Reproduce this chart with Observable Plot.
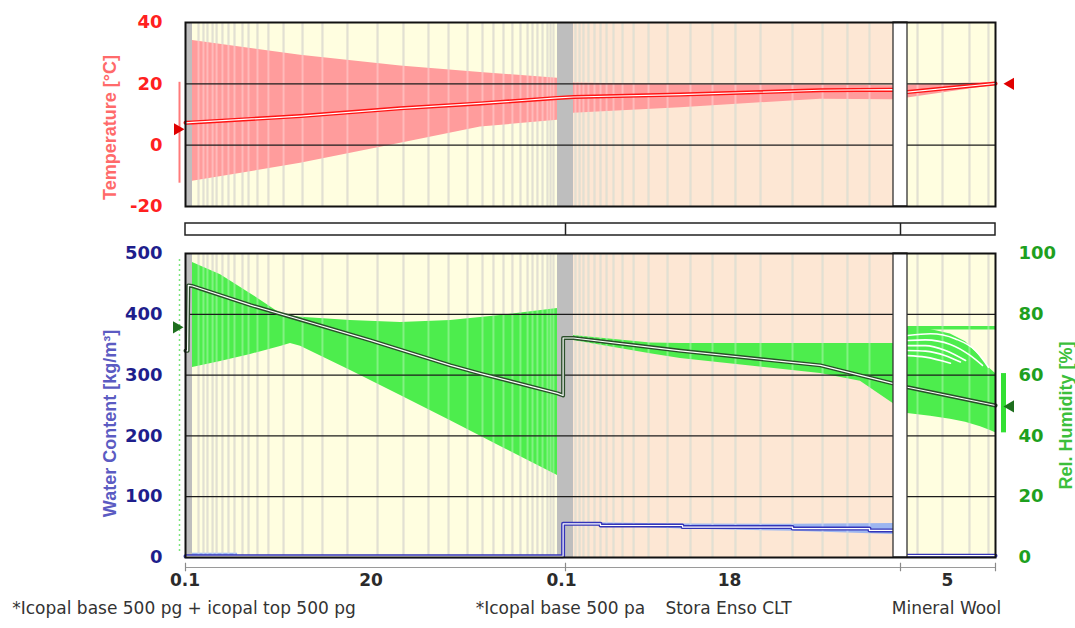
<!DOCTYPE html>
<html><head><meta charset="utf-8">
<script src="https://cdn.jsdelivr.net/npm/d3@7"></script>
<script src="https://cdn.jsdelivr.net/npm/@observablehq/plot@0.6"></script>
<style>
body{margin:0;background:#fff;}
#chart{width:1075px;height:628px;overflow:hidden;background:#fff;}
#chart svg{display:block;}
</style></head><body><div id="chart"></div>
<script>
// ---------------- DATA ----------------
const layerNames = ["*Icopal base 500 pg + icopal top 500 pg", "", "*Icopal base 500 pa", "Stora Enso CLT", "", "Mineral Wool"];
const layerThickness = [0.1, 20, 0.1, 18, 0.1, 5];          // cm
const thicknessLabels = ["0.1", "20", "0.1", "18", "", "5"];
const layerKinds = ["membrane", "insulation", "membrane", "timber", "gap", "insulation"];

// grid element boundaries (cm)
const gridX = [0.43, 0.70, 0.92, 1.20, 1.42, 1.74, 2.07, 2.40, 2.84, 3.17, 3.66, 4.26, 5.09, 6.13, 7.22, 8.59, 10.24, 11.66, 13.03, 14.13, 15.17, 15.99, 16.59, 17.14, 17.63, 18.07, 18.46, 18.73, 19.00, 19.28, 19.55, 19.72, 19.88,
  20.31, 20.54, 20.76, 21.04, 21.38, 21.72, 22.06, 22.45, 22.96, 23.58, 24.42, 25.49, 26.78, 28.02, 29.31, 30.72, 32.52, 34.21, 35.61, 36.85,
  38.87, 40.29, 41.82, 42.90];

// temperature envelope (°C)
const tempBandX     = [0.1, 6.02, 11.5, 15.88, 20.1, 20.2, 26.22, 34.09, 38.2, 38.3, 43.3];
const tempBandMax   = [34.1, 29.3, 25.8, 23.7, 21.8, 20.3, 19.7, 19.6, 19.4, 19.6, 20.5];
const tempBandMin   = [-11.8, -5.9, 0.6, 5.9, 8.1, 10.4, 12.2, 15.0, 14.8, 15.4, 19.5];
const tempBandLayer = [1, 1, 1, 1, 1, 3, 3, 3, 3, 5, 5];
// temperature mean profile
const tempMeanX = [0, 0.1, 6.02, 11.5, 15.88, 20.1, 20.2, 26.22, 34.09, 38.2, 38.3, 43.3];
const tempMean  = [7.3, 7.4, 9.5, 12.0, 13.6, 15.4, 15.7, 16.5, 17.9, 18.1, 17.3, 20.1];

// relative humidity envelope (%)
const rhBandX     = [0.1, 1.64, 3.28, 4.92, 5.47, 6.02, 8.76, 11.5, 14.24, 16.98, 20.1, 20.2, 24.53, 26.22, 30.16, 34.09, 36.34, 38.2, 38.3, 39.61, 40.74, 41.6, 42.45, 43.01, 43.3];
const rhBandMax   = [97, 93, 86.8, 80.3, 79.5, 79.0, 78.0, 77.3, 78.0, 79.6, 81.9, 73, 70.6, 70.4, 70.4, 70.4, 70.4, 70.4, 76, 75, 73.5, 71, 66, 62, 60.5];
const rhBandMin   = [62.5, 64.5, 66.8, 69.4, 70.4, 69.5, 61.5, 53.3, 45, 36.5, 27.0, 71.4, 67, 65.5, 63, 60.5, 58, 50.6, 47.4, 46.5, 45.5, 44.5, 43, 41.8, 41];
const rhBandLayer = [1,1,1,1,1,1,1,1,1,1,1, 3,3,3,3,3,3,3, 5,5,5,5,5,5,5];
// RH mean profile
const rhMeanX = [0, 0.03, 0.04, 0.1, 3.28, 6.02, 9.85, 14.24, 15.88, 20.1, 20.135, 20.135, 20.2, 26.22, 34.09, 38.2, 38.3, 43.3];
const rhMean  = [68, 68, 89.5, 89.3, 83, 78.2, 71.4, 63.2, 60.5, 54, 53.3, 72.2, 72.2, 68, 63.2, 57.2, 56, 50];
// earlier RH profiles inside the mineral wool (white traces)
const rhTraceId = [0,0,0,0,0, 1,1,1,1,1, 2,2,2,2, 3,3,3,3, 4,4,4];
const rhTraceX  = [38.3, 39.61, 41.03, 42.16, 42.9, 38.3, 39.32, 40.74, 41.88, 42.56, 38.3, 39.32, 40.46, 41.6, 38.3, 39.32, 40.46, 41.31, 38.3, 39.32, 40.74];
const rhTraceV  = [73, 73.6, 71.9, 68.1, 62.6, 71.4, 71.6, 70.1, 66.4, 63.2, 69.7, 69.7, 68.1, 64.8, 68.1, 67.9, 66.4, 64.3, 66.4, 65.9, 63.9];
const rhWoolMax = 75.6;

// water content (kg/m³)
const wcMeanX = [0, 20.135, 20.135, 21.72, 26.33, 32.52, 36.85, 38.2, 38.25, 43.3];
const wcMean  = [2, 2, 55.4, 52.6, 50, 47.5, 44.5, 44.5, 3, 3];
const wcBandX = [0, 2.57, 20.2, 26.33, 32.52, 38.2];
const wcBandMax = [7, 7, 57.5, 55, 54.5, 56];
const wcBandMin = [1, 1, 53.5, 47, 43, 38];
const wcBandLayer = [1, 1, 3, 3, 3, 3];

// boundary climates
const extTempMean = 5.2, extTempRange = [-12.4, 20.5], intTemp = 20.0;
const extRHMean = 75.7, extRHRange = [2, 98], intRHMean = 49.7, intRHRange = [41, 60.5];

// axis ticks
const tempTicks = [-20, 0, 20, 40];
const wcTicks = [0, 100, 200, 300, 400, 500];
const rhTicks = [0, 20, 40, 60, 80, 100];

// ---------------- LAYOUT / STYLE ----------------
const W = 1075;
const xRange = [185, 192, 557, 573, 893, 907, 995];
const edges = [0];
layerThickness.forEach(t => edges.push(+(edges[edges.length - 1] + t).toFixed(4)));
const xEnd = edges[edges.length - 1];
const layers = layerThickness.map((t, i) => ({
  x1: edges[i], x2: edges[i + 1], xc: (edges[i] + edges[i + 1]) / 2,
  name: layerNames[i], label: thicknessLabels[i], kind: layerKinds[i]
}));
const kindFill = {membrane: "#BEBEBE", insulation: "#FFFEE0", timber: "#FDE7D4", gap: "#FFFFFF"};
const bgLayers = layers.filter(d => d.kind === "insulation" || d.kind === "timber");
const greyLayers = layers.filter(d => d.kind === "membrane");
const gapLayers = layers.filter(d => d.kind === "gap");
const tickPos = [edges[0], layers[2].xc, layers[4].xc, xEnd];
const RH = 5; // 100 % RH <-> 500 kg/m³ on the shared vertical scale

const xScale = () => ({type: "linear", domain: edges, range: xRange, axis: null});
const tickFont = {fontFamily: "DejaVu Sans", fontWeight: "bold", fontSize: 18};
const titleFont = {fontFamily: "Liberation Sans", fontWeight: "bold", fontSize: 18};

const tempBand = tempBandX.map((x, i) => ({x, hi: tempBandMax[i], lo: tempBandMin[i], layer: tempBandLayer[i]}));
const tempLine = tempMeanX.map((x, i) => ({x, y: tempMean[i]}));
const rhBand = rhBandX.map((x, i) => ({x, hi: rhBandMax[i] * RH, lo: rhBandMin[i] * RH, layer: rhBandLayer[i]}));
const rhLine = rhMeanX.map((x, i) => ({x, y: rhMean[i] * RH}));
const rhTraces = rhTraceX.map((x, i) => ({x, y: rhTraceV[i] * RH, id: rhTraceId[i]}));
const wcLine = wcMeanX.map((x, i) => ({x, y: wcMean[i]}));
const wcBand = wcBandX.map((x, i) => ({x, hi: wcBandMax[i], lo: wcBandMin[i], layer: wcBandLayer[i]}));

const chartDiv = document.getElementById("chart");

// ---------------- TOP PANEL: temperature ----------------
const tempPanel = Plot.plot({
  width: W, height: 215, marginLeft: 185, marginRight: 80, marginTop: 22, marginBottom: 9,
  style: {background: "transparent", overflow: "visible"},
  x: xScale(),
  y: {domain: [-20, 40], range: [206, 22]},
  color: {type: "identity"},
  marks: [
    Plot.rect(bgLayers, {x1: "x1", x2: "x2", y1: -20, y2: 40, fill: d => kindFill[d.kind]}),
    Plot.ruleX(gridX, {y1: -20, y2: 40, stroke: "#D6D3C1", strokeWidth: 2}),
    Plot.areaY(tempBand, {x: "x", y1: "lo", y2: "hi", z: "layer", fill: "#FF9C9C"}),
    Plot.ruleX(gridX, {y1: -20, y2: 40, stroke: "#ffffff", strokeOpacity: 0.3, strokeWidth: 2}),
    Plot.rect(greyLayers, {x1: "x1", x2: "x2", y1: -20, y2: 40, fill: d => kindFill[d.kind]}),
    Plot.ruleY([0, 20], {stroke: "#1c1c1c", strokeWidth: 1.3}),
    Plot.line(tempLine, {x: "x", y: "y", stroke: "#FF1414", strokeWidth: 4}),
    Plot.line(tempLine, {x: "x", y: "y", stroke: "#ffffff", strokeWidth: 1.2}),
    Plot.rect(gapLayers, {x1: "x1", x2: "x2", y1: -20, y2: 40, fill: "#fff", stroke: "#333", strokeWidth: 1.3}),
    Plot.frame({stroke: "#111", strokeWidth: 2}),
    Plot.axisY({ticks: tempTicks, tickFormat: d => `${d}`, tickSize: 0, tickPadding: 23, label: null, fill: "#FF2020", ...tickFont}),
    Plot.text(["Temperature [°C]"], {frameAnchor: "left", dx: -75, dy: 13, rotate: -90, textAnchor: "middle", fill: "#FF6A6A", ...titleFont}),
    Plot.ruleX([extTempRange], {x: 0, y1: d => d[0], y2: d => d[1], dx: -6, stroke: "#FF7A7A", strokeWidth: 2}),
    Plot.dot([extTempMean], {x: 0, y: d => d, dx: -8, symbol: "triangle", rotate: 90, r: 4.5, fill: "#E00000"}),
    Plot.dot([intTemp], {x: xEnd, y: d => d, dx: 15, symbol: "triangle", rotate: -90, r: 4.5, fill: "#E00000"})
  ]
});

// ---------------- LAYER STRIP ----------------
const stripPanel = Plot.plot({
  width: W, height: 30, marginLeft: 185, marginRight: 80, marginTop: 8, marginBottom: 10,
  style: {background: "transparent", overflow: "visible"},
  x: xScale(),
  y: {domain: [0, 1], range: [20, 8], axis: null},
  marks: [
    Plot.rect([xEnd], {x1: 0, x2: d => d, y1: 0, y2: 1, fill: "#fff", stroke: "#222", strokeWidth: 1.5}),
    Plot.ruleX([layers[2].xc, layers[4].xc], {y1: 0, y2: 1, stroke: "#222", strokeWidth: 1.5})
  ]
});

// ---------------- BOTTOM PANEL: water content & RH ----------------
const moistPanel = Plot.plot({
  width: W, height: 383, marginLeft: 185, marginRight: 80, marginTop: 8, marginBottom: 71,
  style: {background: "transparent", overflow: "visible"},
  x: xScale(),
  y: {domain: [0, 500], range: [312, 8]},
  color: {type: "identity"},
  marks: [
    Plot.rect(bgLayers, {x1: "x1", x2: "x2", y1: 0, y2: 500, fill: d => kindFill[d.kind]}),
    Plot.ruleX(gridX, {y1: 0, y2: 500, stroke: "#D6D3C1", strokeWidth: 2}),
    Plot.areaY(rhBand, {x: "x", y1: "lo", y2: "hi", z: "layer", fill: "#4DED4D"}),
    Plot.ruleY([rhWoolMax * RH], {x1: edges[5], x2: xEnd, stroke: "#4DED4D", strokeWidth: 3.5}),
    Plot.line(rhTraces, {x: "x", y: "y", z: "id", stroke: "#ffffff", strokeWidth: 1.6, curve: "monotone-x"}),
    Plot.areaY(wcBand, {x: "x", y1: "lo", y2: "hi", z: "layer", fill: "#9DB6F0"}),
    Plot.ruleX(gridX, {y1: 0, y2: 500, stroke: "#ffffff", strokeOpacity: 0.3, strokeWidth: 2}),
    Plot.rect(greyLayers, {x1: "x1", x2: "x2", y1: 0, y2: 500, fill: d => kindFill[d.kind]}),
    Plot.ruleY([100, 200, 300, 400], {stroke: "#1c1c1c", strokeWidth: 1.3}),
    Plot.line(rhLine, {x: "x", y: "y", stroke: "#2A4F2A", strokeWidth: 4}),
    Plot.line(rhLine, {x: "x", y: "y", stroke: "#ffffff", strokeWidth: 1.2}),
    Plot.line(wcLine, {x: "x", y: "y", stroke: "#3434B8", strokeWidth: 4, curve: "step-after"}),
    Plot.line(wcLine, {x: "x", y: "y", stroke: "#ffffff", strokeWidth: 1.2, curve: "step-after"}),
    Plot.rect(gapLayers, {x1: "x1", x2: "x2", y1: 0, y2: 500, fill: "#fff", stroke: "#333", strokeWidth: 1.3}),
    Plot.frame({stroke: "#111", strokeWidth: 2}),
    Plot.axisY({ticks: wcTicks, tickFormat: d => `${d}`, tickSize: 0, tickPadding: 23, label: null, fill: "#1E1E8C", ...tickFont}),
    Plot.axisY({anchor: "right", ticks: rhTicks.map(v => v * RH), tickFormat: d => `${d / RH}`, tickSize: 0, tickPadding: 23, label: null, fill: "#1EA01E", ...tickFont}),
    Plot.text(["Water Content [kg/m³]"], {frameAnchor: "left", dx: -75, dy: 18, rotate: -90, textAnchor: "middle", fill: "#5B5BC2", ...titleFont}),
    Plot.text(["Rel. Humidity [%]"], {frameAnchor: "right", dx: 71, dy: 10, rotate: -90, textAnchor: "middle", fill: "#3CBF3C", ...titleFont}),
    // boundary climate indicators
    Plot.ruleX([extRHRange], {x: 0, y1: d => d[0] * RH, y2: d => d[1] * RH, dx: -6, stroke: "#7BE67B", strokeWidth: 1.5, strokeDasharray: "2,3"}),
    Plot.dot([extRHMean], {x: 0, y: d => d * RH, dx: -9, symbol: "triangle", rotate: 90, r: 4.5, fill: "#1E6E1E"}),
    Plot.ruleX([intRHRange], {x: xEnd, y1: d => d[0] * RH, y2: d => d[1] * RH, dx: 8, stroke: "#33E033", strokeWidth: 5}),
    Plot.dot([intRHMean], {x: xEnd, y: d => d * RH, dx: 15, symbol: "triangle", rotate: -90, r: 4.5, fill: "#1E6E1E"}),
    // layer axis below
    Plot.ruleY([0], {x1: 0, x2: xEnd, dy: 10, stroke: "#9a9a9a", strokeWidth: 1.2}),
    Plot.ruleX(tickPos, {y1: -7, y2: 7, dy: 10, stroke: "#8a8a8a", strokeWidth: 1.2}),
    Plot.text(layers.filter(d => d.label), {x: "xc", y: 0, dy: 23, dx: -4, text: "label", fontFamily: "DejaVu Sans", fontWeight: "bold", fontSize: 17, fill: "#2b2b2b"}),
    Plot.text(layers.filter(d => d.name), {x: "xc", y: 0, dy: 51, dx: -5, text: "name", fontFamily: "DejaVu Sans", fontSize: 17, fill: "#333"})
  ]
});

chartDiv.append(tempPanel, stripPanel, moistPanel);
</script>
</body></html>
